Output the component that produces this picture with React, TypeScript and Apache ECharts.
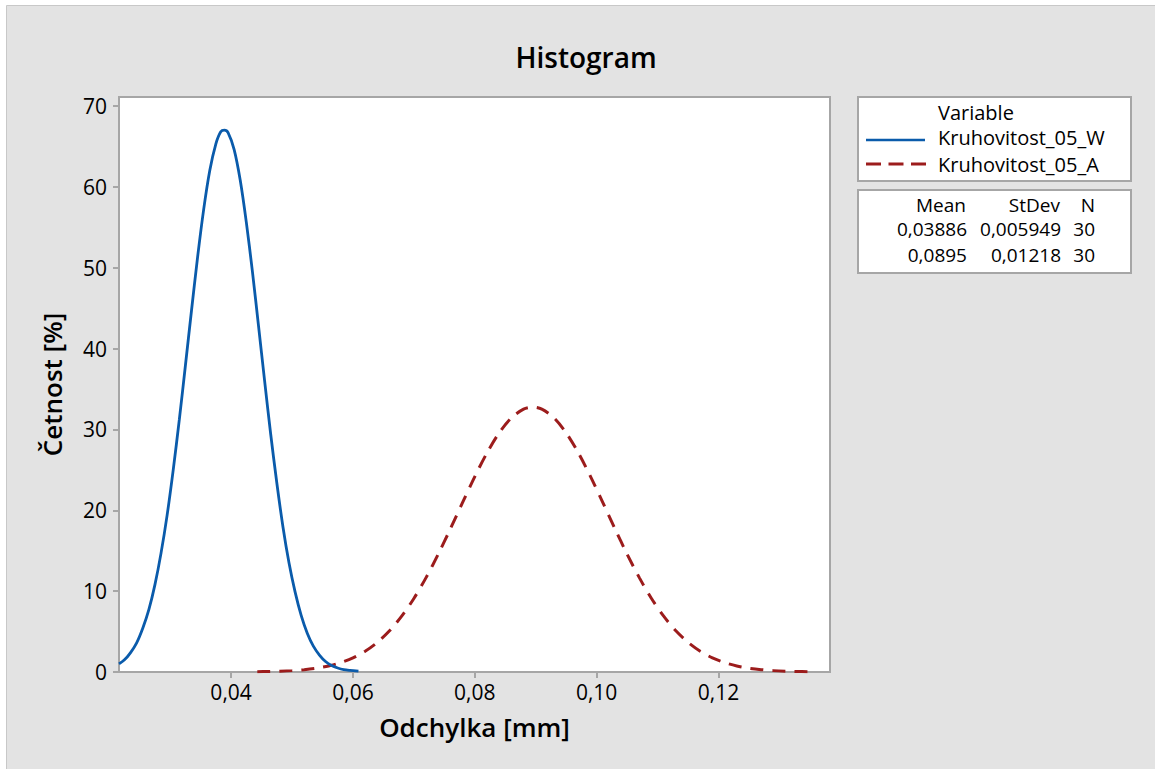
import React, { useEffect, useRef } from "react";
import * as echarts from "echarts";

const blueX = [0.0216, 0.0225, 0.0235, 0.0245, 0.0255, 0.0265, 0.0275, 0.0285, 0.0295, 0.0305, 0.0315, 0.0325, 0.0335, 0.0345, 0.0355, 0.0365, 0.0375, 0.0383, 0.0389, 0.0395, 0.0405, 0.0415, 0.0425, 0.0435, 0.0445, 0.0455, 0.0465, 0.0475, 0.0485, 0.0495, 0.0505, 0.0515, 0.0525, 0.0535, 0.0545, 0.0555, 0.0565, 0.0575, 0.0585, 0.0595, 0.0609];
const blueY = [1.0, 1.5, 2.4, 3.6, 5.4, 7.7, 10.8, 14.7, 19.4, 25.0, 31.2, 37.9, 44.7, 51.3, 57.2, 62.0, 65.3, 66.8, 67.0, 66.7, 64.6, 60.8, 55.6, 49.5, 42.8, 36.0, 29.4, 23.4, 18.0, 13.5, 9.9, 7.0, 4.8, 3.2, 2.1, 1.3, 0.8, 0.5, 0.3, 0.2, 0.1];

const redX = [0.0443, 0.046, 0.048, 0.05, 0.052, 0.054, 0.056, 0.058, 0.06, 0.062, 0.064, 0.066, 0.068, 0.07, 0.072, 0.074, 0.076, 0.078, 0.08, 0.082, 0.084, 0.086, 0.088, 0.0895, 0.091, 0.093, 0.095, 0.097, 0.099, 0.101, 0.103, 0.105, 0.107, 0.109, 0.111, 0.113, 0.115, 0.117, 0.119, 0.121, 0.123, 0.125, 0.127, 0.129, 0.131, 0.133, 0.1346];
const redY = [0.03, 0.06, 0.1, 0.17, 0.29, 0.47, 0.75, 1.16, 1.74, 2.56, 3.66, 5.09, 6.9, 9.09, 11.67, 14.57, 17.72, 20.97, 24.16, 27.09, 29.57, 31.42, 32.5, 32.75, 32.5, 31.42, 29.57, 27.09, 24.16, 20.97, 17.72, 14.57, 11.67, 9.09, 6.9, 5.09, 3.66, 2.56, 1.74, 1.16, 0.75, 0.47, 0.29, 0.17, 0.1, 0.06, 0.03];

const xTicks = [0.04, 0.06, 0.08, 0.1, 0.12];
const yTicks = [0, 10, 20, 30, 40, 50, 60, 70];

const seriesNames = ["Kruhovitost_05_W", "Kruhovitost_05_A"];
const statHeaders = ["Mean", "StDev", "N"];
const statMeans = ["0,03886", "0,0895"];
const statStDevs = ["0,005949", "0,01218"];
const statNs = ["30", "30"];

const BLUE = "#0a5bab";
const RED = "#9c1c1c";
const FONT = "'Open Sans', 'Noto Sans', sans-serif";

export default function App() {
  const ref = useRef<HTMLDivElement>(null);
  useEffect(() => {
    if (!ref.current) return;
    const chart = echarts.init(ref.current, null, { renderer: "svg" });
    const txt = (x: number, y: number, text: string, align: string, size = 19, weight: any = "normal") => ({
      type: "text",
      x,
      y,
      style: {
        text,
        fill: "#000",
        font: `${weight} ${size}px ${FONT}`,
        lineHeight: size,
        align,
        verticalAlign: "middle",
      },
      z: 10,
    });
    const rowYs = [229, 255];
    const graphics: any[] = [
      { type: "rect", shape: { x: 6.5, y: 5.5, width: 1160, height: 780 }, style: { fill: "#e3e3e3", stroke: "#c8c8c8", lineWidth: 1 }, z: -10, silent: true },
      { type: "rect", shape: { x: 858, y: 97, width: 273, height: 84 }, style: { fill: "#fff", stroke: "#a6a6a6", lineWidth: 2 }, z: 5 },
      { type: "rect", shape: { x: 858, y: 190, width: 273, height: 83 }, style: { fill: "#fff", stroke: "#a6a6a6", lineWidth: 2 }, z: 5 },
      txt(938, 112, "Variable", "left", 20),
      { type: "line", shape: { x1: 866, y1: 140, x2: 925, y2: 140 }, style: { stroke: BLUE, lineWidth: 2.5 }, z: 10 },
      { type: "line", shape: { x1: 866, y1: 164, x2: 926, y2: 164 }, style: { stroke: RED, lineWidth: 3, lineDash: [15, 7.5] }, z: 10 },
      txt(938, 137.5, seriesNames[0], "left", 20),
      txt(938, 164, seriesNames[1], "left", 20),
      txt(966, 205, statHeaders[0], "right"),
      txt(1060, 205, statHeaders[1], "right"),
      txt(1095, 205, statHeaders[2], "right"),
    ];
    rowYs.forEach((y, i) => {
      graphics.push(txt(967, y, statMeans[i], "right"));
      graphics.push(txt(1061, y, statStDevs[i], "right"));
      graphics.push(txt(1095, y, statNs[i], "right"));
    });
    chart.setOption({
      animation: false,
      backgroundColor: "#ffffff",
      title: {
        text: "Histogram",
        left: 581,
        top: 38,
        textAlign: "center",
        textStyle: { fontFamily: FONT, fontSize: 28, fontWeight: 600, color: "#000" },
      },
      grid: {
        left: 119,
        top: 97,
        width: 711,
        height: 575,
        show: true,
        backgroundColor: "#fff",
        borderColor: "#a6a6a6",
        borderWidth: 2,
      },
      xAxis: {
        type: "value",
        min: 0.0216,
        max: 0.1383,
        name: "Odchylka [mm]",
        nameLocation: "middle",
        nameGap: 42,
        nameTextStyle: { fontFamily: FONT, fontSize: 26, fontWeight: 600, color: "#000" },
        axisLine: { show: true, lineStyle: { color: "#a6a6a6", width: 2 } },
        axisTick: { show: true, customValues: xTicks, length: 6, lineStyle: { color: "#a6a6a6", width: 2 } },
        axisLabel: {
          customValues: xTicks,
          margin: 9,
          fontFamily: FONT,
          fontSize: 21,
          color: "#000",
          formatter: (v: number) => v.toFixed(2).replace(".", ","),
        },
        splitLine: { show: false },
      },
      yAxis: {
        type: "value",
        min: 0,
        max: 71.1,
        name: "Četnost [%]",
        nameLocation: "middle",
        nameGap: 54,
        nameTextStyle: { fontFamily: FONT, fontSize: 26, fontWeight: 600, color: "#000" },
        axisLine: { show: true, lineStyle: { color: "#a6a6a6", width: 2 } },
        axisTick: { show: true, customValues: yTicks, length: 6, lineStyle: { color: "#a6a6a6", width: 2 } },
        axisLabel: { customValues: yTicks, margin: 12, fontFamily: FONT, fontSize: 21, color: "#000" },
        splitLine: { show: false },
      },
      series: [
        {
          name: seriesNames[0],
          type: "line",
          smooth: 0.3,
          showSymbol: false,
          data: blueX.map((x, i) => [x, blueY[i]]),
          lineStyle: { color: BLUE, width: 2.8 },
          z: 3,
        },
        {
          name: seriesNames[1],
          type: "line",
          smooth: 0.3,
          showSymbol: false,
          data: redX.map((x, i) => [x, redY[i]]),
          lineStyle: { color: RED, width: 3, type: [13, 9] },
          z: 2,
        },
      ],
      graphic: graphics,
    });
    return () => chart.dispose();
  }, []);
  return <div ref={ref} style={{ position: "absolute", left: 0, top: 0, width: 1155, height: 769 }} />;
}
